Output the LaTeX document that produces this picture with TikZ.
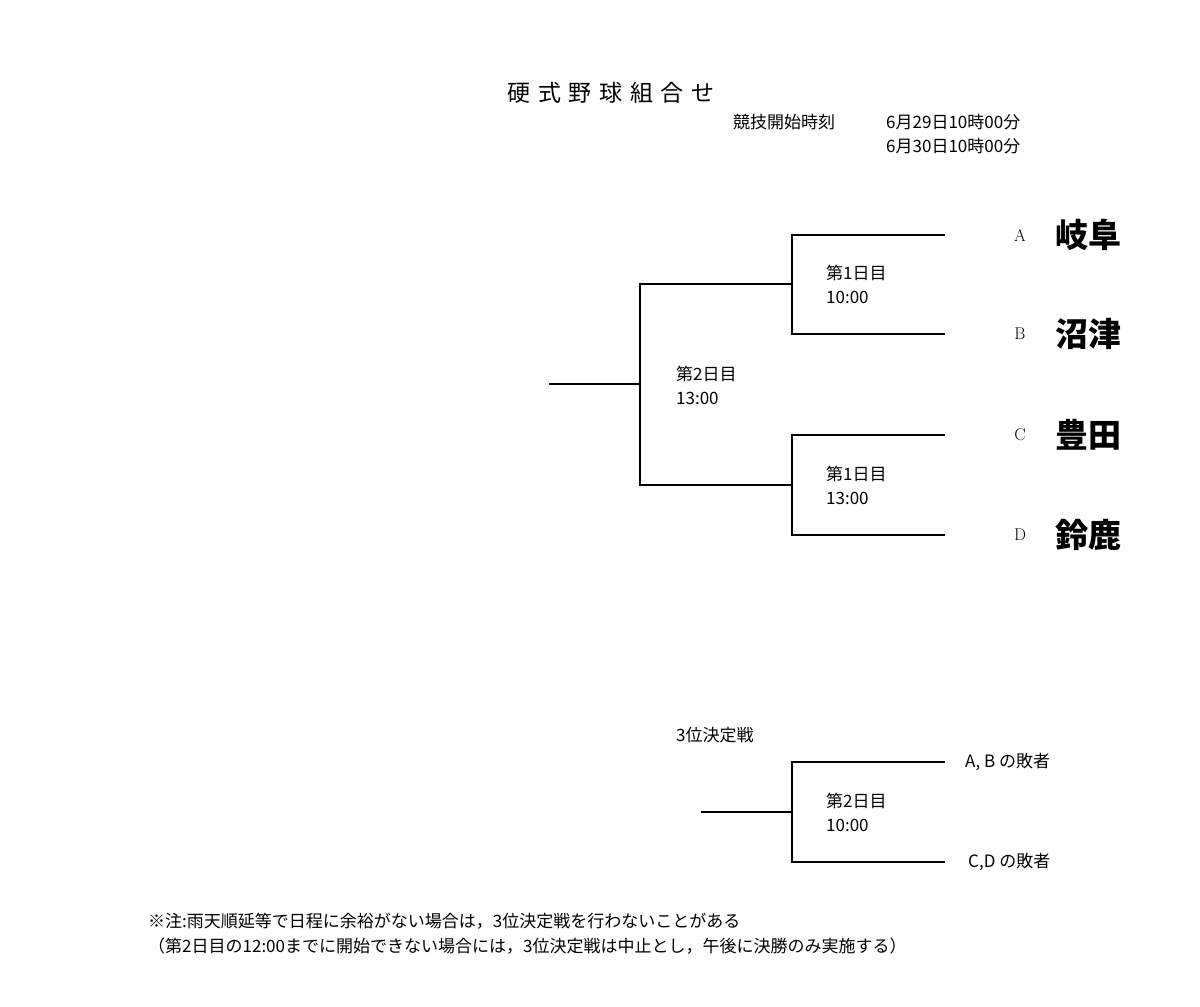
\documentclass[tikz,border=0pt]{standalone}
\usepackage{fontspec}
\usetikzlibrary{calc}
\newfontfamily\cjk{Noto Sans CJK JP}
\begin{document}
\begin{tikzpicture}[x=1pt,y=-1pt,
  lbl/.style={anchor=west,inner sep=0,font=\cjk\fontsize{17}{24}\selectfont,align=left},
  team/.style={anchor=west,inner sep=0,font=\cjk\bfseries\fontsize{33}{36}\selectfont},
  let/.style={anchor=center,inner sep=0,font=\fontsize{17}{20}\selectfont},
  ln/.style={line width=1.4pt}]
\useasboundingbox[fill=white] (0,0) rectangle (1200,1007);
\node[anchor=center,inner sep=0,font=\cjk\fontsize{23}{26}\selectfont] (title) at (611,93) {硬\,\,式\,\,野\,\,球\,\,組\,\,合\,\,せ};
\node[lbl] (kk) at (733,122) {競技開始時刻};
\node[lbl] (d1) at (886,122) {6月29日10時00分};
\node[lbl] (d2) at (886,146) {6月30日10時00分};
% coordinates
\foreach \n/\y in {a/235,b/334,c/435,d/535,e/762,f/862}{
  \coordinate (\n1) at (792,\y); \coordinate (\n2) at (945,\y);}
\coordinate (m1) at (640,284); \coordinate (m1r) at (792,284);
\coordinate (m2) at (640,485); \coordinate (m2r) at (792,485);
\coordinate (r0) at (549,384); \coordinate (r1) at (640,384);
\coordinate (t0) at (701,812); \coordinate (t1) at (792,812);
\draw[ln] (a2)--(a1)--(b1)--(b2);
\draw[ln] (c2)--(c1)--(d1)--(d2);
\draw[ln] (m1r)--(m1)--(m2)--(m2r);
\draw[ln] (r0)--(r1);
\draw[ln] (e2)--(e1)--(f1)--(f2);
\draw[ln] (t0)--(t1);
\node[lbl] (g1) at (826,284) {第1日目\\10:00};
\node[lbl] (g2) at (826,485) {第1日目\\13:00};
\node[lbl] (g3) at (676,385) {第2日目\\13:00};
\node[lbl] (g4) at (826,812) {第2日目\\10:00};
\node[lbl] (third) at (676,735) {3位決定戦};
\foreach \n/\l/\t in {a/A/岐阜,b/B/沼津,c/C/豊田,d/D/鈴鹿}{
  \node[let] (L\n) at ($(\n2)+(75,0)$) {\l};
  \node[team] (T\n) at ($(\n2)+(110,0)$) {\t};}
\node[lbl] (le) at (965,762) {A, B の敗者};
\node[lbl] (lf) at (968,862) {C,D の敗者};
\node[lbl] (n1) at (148,921) {※注:雨天順延等で日程に余裕がない場合は，3位決定戦を行わないことがある};
\node[lbl] (n2) at (148,946) {（第2日目の12:00までに開始できない場合には，3位決定戦は中止とし，午後に決勝のみ実施する）};
\end{tikzpicture}
\end{document}
